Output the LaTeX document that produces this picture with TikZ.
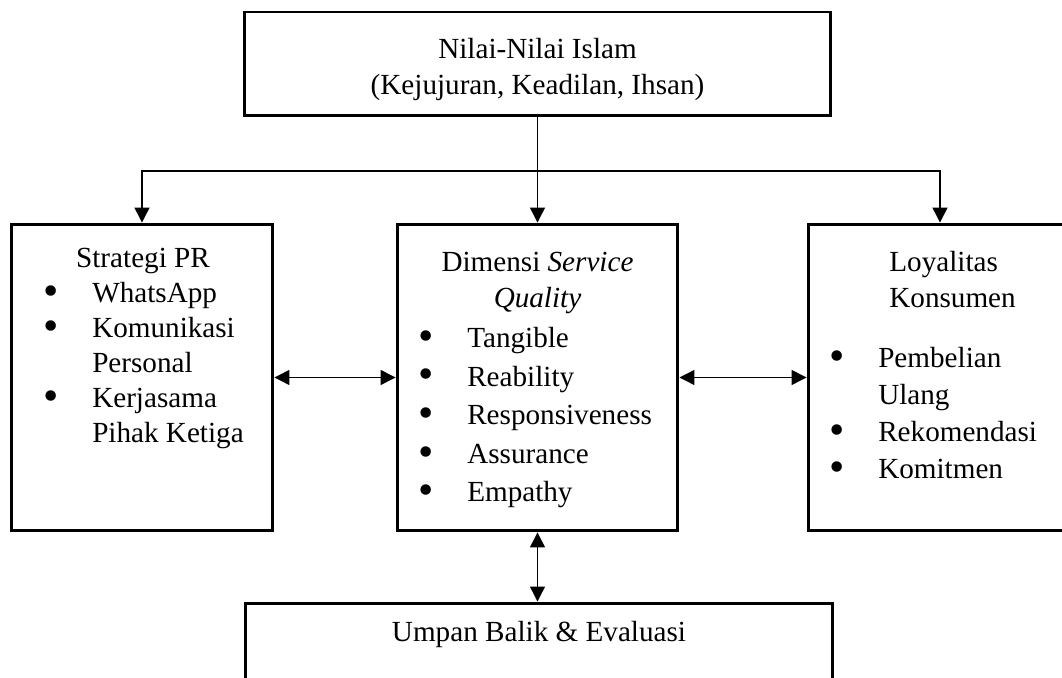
\documentclass[tikz,border=0pt]{standalone}
\usepackage{fontspec}
\setmainfont{Liberation Serif}
\usetikzlibrary{arrows.meta}

\newcommand{\bul}{\makebox[26.7pt][l]{\hspace{-1pt}\raisebox{-1.6pt}{\scalebox{1.5}{\textbullet}}}}
\newcommand{\nobul}{\hspace*{26.7pt}}

\begin{document}
\begin{tikzpicture}[x=0.02cm, y=-0.02cm]
            \tikzset{box/.style={draw, line width=1.7pt, inner sep=0pt},
                     txt/.style={inner sep=0pt, font=\fontsize{16.6}{20}\selectfont},
                     arr/.style={line width=0.75pt, -{Triangle[length=8.5pt, width=8.5pt]}},
                     dbl/.style={line width=0.75pt, {Triangle[length=8.5pt, width=8.5pt]}-{Triangle[length=8.5pt, width=8.5pt]}}}

            \useasboundingbox (0,0) rectangle (1062,678);
            \clip (0,0) rectangle (1062,678);

            % boxes
            \node[box, minimum width=11.74cm, minimum height=2.08cm] (islam) at (537.5,64) {};
            \node[box, minimum width=5.24cm, minimum height=6.14cm] (pr) at (142,377.5) {};
            \node[box, minimum width=5.62cm, minimum height=6.14cm] (sq) at (537.5,377.5) {};
            \node[box, minimum width=5.28cm, minimum height=6.14cm] (loyal) at (940,377.5) {};
            \node[box, minimum width=11.76cm, minimum height=2.2cm] (feedback) at (539,658) {};

            % texts (multi-line nodes sit on their last baseline)
            \node[txt, align=center, anchor=base, font=\fontsize{16.6}{21}\selectfont] (islamtxt) at (537.5,95) {Nilai-Nilai Islam\\(Kejujuran, Keadilan, Ihsan)};

            \node[txt, anchor=base] (prhead) at (143,268) {Strategi PR};
            \node[txt, align=left, anchor=base west] (prlist) at (45,443) {\bul WhatsApp\\\bul Komunikasi\\\nobul Personal\\\bul Kerjasama\\\nobul Pihak Ketiga};

            \node[txt, align=center, anchor=base, font=\fontsize{16.6}{21}\selectfont] (sqhead) at (537.5,308) {Dimensi \textit{Service}\\\textit{Quality}};
            \node[txt, align=left, anchor=base west, font=\fontsize{16.6}{22}\selectfont] (sqlist) at (420,502) {\bul Tangible\\\bul Reability\\\bul Responsiveness\\\bul Assurance\\\bul Empathy};

            \node[txt, align=left, anchor=base west, font=\fontsize{16.6}{20.5}\selectfont] (loyalhead) at (889,308) {Loyalitas\\Konsumen};
            \node[txt, align=left, anchor=base west, font=\fontsize{16.6}{21.2}\selectfont] (loyallist) at (831,479) {\bul Pembelian\\\nobul Ulang\\\bul Rekomendasi\\\bul Komitmen};

            \node[txt, anchor=base] (fbtxt) at (539,642) {Umpan Balik \& Evaluasi};

            % connectors
            \coordinate (hub) at (537.5,171);
            \draw[arr] (islam) -- (sq);
            \draw[arr] (hub) -| (pr.north);
            \draw[arr] (hub) -| (loyal.north);

            \draw[dbl] (pr) -- (sq);
            \draw[dbl] (sq) -- (loyal);
            \draw[dbl] (sq.south) -- (sq.south |- feedback.north);
        \end{tikzpicture}
\end{document}
